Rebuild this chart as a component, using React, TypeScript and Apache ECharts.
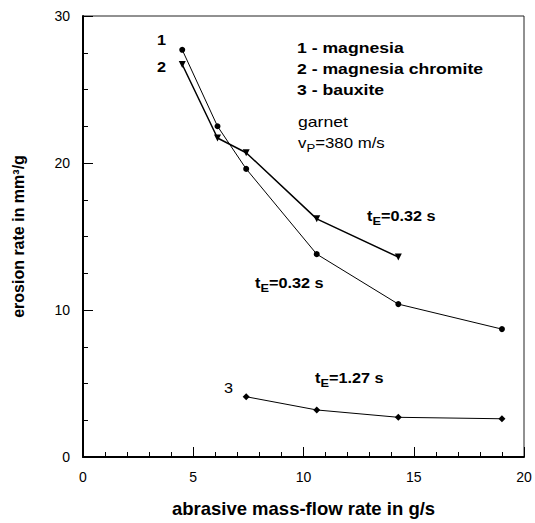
import React, { useEffect, useRef } from "react";
import * as echarts from "echarts";

const magnesiaX = [4.5, 6.1, 7.4, 10.6, 14.3, 19.0];
const magnesiaY = [27.7, 22.5, 19.6, 13.8, 10.4, 8.7];
const chromiteX = [4.5, 6.1, 7.4, 10.6, 14.3];
const chromiteY = [26.7, 21.7, 20.7, 16.2, 13.6];
const bauxiteX = [7.4, 10.6, 14.3, 19.0];
const bauxiteY = [4.1, 3.2, 2.7, 2.6];

const xTicks = [0, 5, 10, 15, 20];
const yTicks = [0, 10, 20, 30];

const FONT = "'Liberation Sans', Arial, sans-serif";

const pairs = (xs: number[], ys: number[]) => xs.map((x, i) => [x, ys[i]]);

export default function App() {
  const ref = useRef<HTMLDivElement>(null);
  useEffect(() => {
    if (!ref.current) return;
    const chart = echarts.init(ref.current, undefined, { renderer: "svg" });
    const rich = {
      b: { fontSize: 14, fontWeight: "bold", fontFamily: FONT, color: "#000", lineHeight: 20 },
      n: { fontSize: 14, fontFamily: FONT, color: "#000", lineHeight: 20 },
      sb: { fontSize: 11, fontWeight: "bold", fontFamily: FONT, color: "#000", lineHeight: 20, padding: [10, 0, 0, 0] },
      sn: { fontSize: 11, fontFamily: FONT, color: "#000", lineHeight: 20, padding: [10, 0, 0, 0] },
    };
    const txt = (x: number, y: number, text: string, bold = true, sx = 1.16) => ({
      type: "text",
      x,
      y,
      scaleX: sx,
      style: {
        text,
        fontSize: 14,
        fontWeight: bold ? "bold" : "normal",
        fontFamily: FONT,
        fill: "#000",
        verticalAlign: "middle",
        rich,
      },
    });
    chart.setOption({
      animation: false,
      backgroundColor: "#fff",
      grid: {
        left: 83,
        top: 16,
        width: 441,
        height: 441,
        show: true,
        borderColor: "#222",
        borderWidth: 1,
        backgroundColor: "transparent",
      },
      xAxis: {
        type: "value",
        min: 0,
        max: 20,
        interval: 5,
        name: "abrasive mass-flow rate in g/s",
        nameLocation: "middle",
        nameGap: 42,
        nameTextStyle: { fontSize: 18.5, fontWeight: "bold", fontFamily: FONT, color: "#000" },
        axisLine: { lineStyle: { color: "#000", width: 2 } },
        axisTick: { inside: true, length: 10, lineStyle: { color: "#000" } },
        minorTick: { show: true, splitNumber: 5, length: 5, lineStyle: { color: "#000" } },
        splitLine: { show: false },
        axisLabel: {
          fontSize: 14,
          fontFamily: FONT,
          color: "#000",
          margin: 13,
          formatter: (v: number) => (xTicks.includes(v) ? String(v) : ""),
        },
      },
      yAxis: {
        type: "value",
        min: 0,
        max: 30,
        interval: 10,
        name: "erosion rate in mm³/g",
        nameLocation: "middle",
        nameGap: 57,
        nameTextStyle: { fontSize: 16, fontWeight: "bold", fontFamily: FONT, color: "#000" },
        axisLine: { lineStyle: { color: "#000", width: 2 } },
        axisTick: { inside: true, length: 10, lineStyle: { color: "#000" } },
        minorTick: { show: true, splitNumber: 4, length: 5, lineStyle: { color: "#000" } },
        splitLine: { show: false },
        axisLabel: {
          fontSize: 14,
          fontFamily: FONT,
          color: "#000",
          margin: 13,
          formatter: (v: number) => (yTicks.includes(v) ? String(v) : ""),
        },
      },
      series: [
        {
          name: "1 - magnesia",
          type: "line",
          data: pairs(magnesiaX, magnesiaY),
          symbol: "circle",
          symbolSize: 6,
          lineStyle: { color: "#000", width: 1 },
          itemStyle: { color: "#000" },
        },
        {
          name: "2 - magnesia chromite",
          type: "line",
          data: pairs(chromiteX, chromiteY),
          symbol: "triangle",
          symbolRotate: 180,
          symbolSize: 7,
          lineStyle: { color: "#000", width: 1.5 },
          itemStyle: { color: "#000" },
        },
        {
          name: "3 - bauxite",
          type: "line",
          data: pairs(bauxiteX, bauxiteY),
          symbol: "diamond",
          symbolSize: 7,
          lineStyle: { color: "#000", width: 1 },
          itemStyle: { color: "#000" },
        },
      ],
      graphic: [
        txt(157, 40, "1"),
        txt(157, 67, "2"),
        txt(297, 48, "1 - magnesia", true, 1.26),
        txt(297, 69, "2 - magnesia chromite", true, 1.26),
        txt(297, 90, "3 - bauxite", true, 1.26),
        txt(298, 122, "garnet", false, 1.26),
        txt(298, 143, "{n|v}{sn|P}{n|=380 m/s}", false, 1.2),
        txt(367, 216, "{b|t}{sb|E}{b|=0.32 s}"),
        txt(255, 283, "{b|t}{sb|E}{b|=0.32 s}"),
        txt(315, 378, "{b|t}{sb|E}{b|=1.27 s}"),
        txt(224, 388, "3", false),
      ],
    });
    return () => chart.dispose();
  }, []);
  return (
    <div
      ref={ref}
      style={{ position: "absolute", left: 0, top: 0, width: 535, height: 523 }}
    />
  );
}
